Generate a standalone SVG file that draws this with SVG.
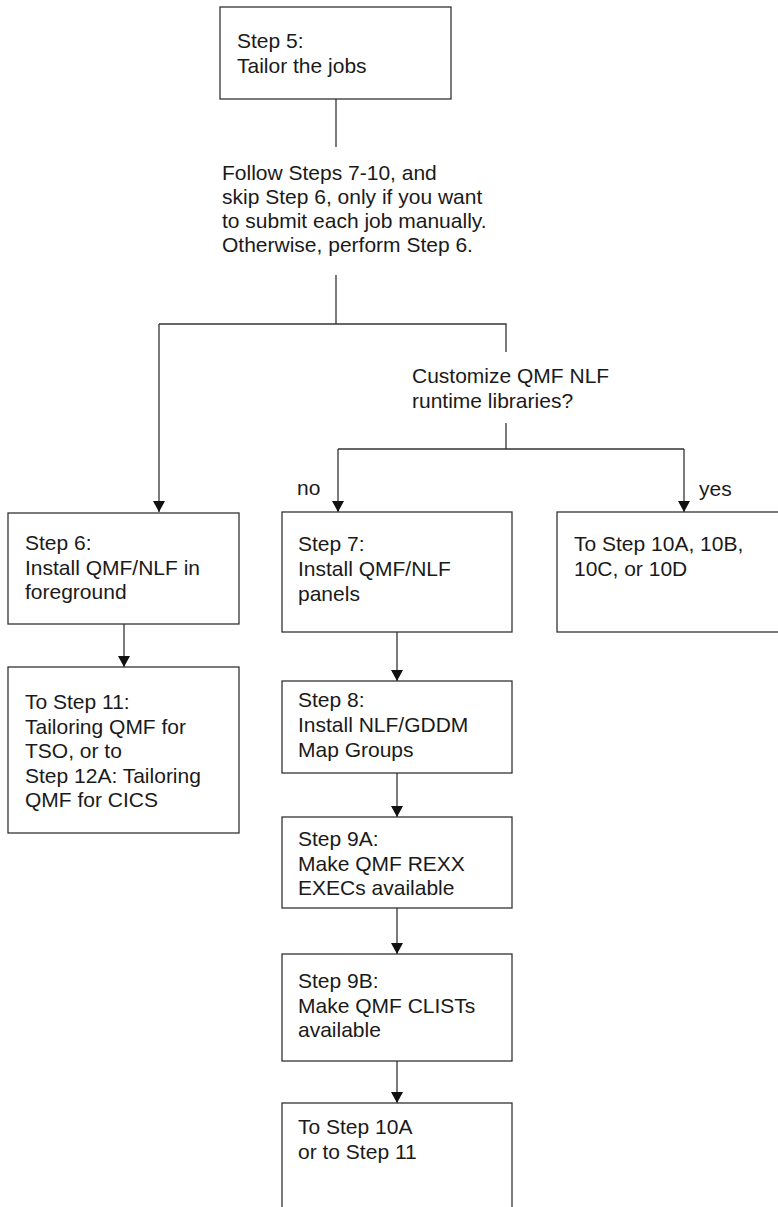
<svg xmlns="http://www.w3.org/2000/svg" width="778" height="1207" viewBox="0 0 778 1207">
<style>
.box{fill:#fff;stroke:#333;stroke-width:1.3}
.ln{fill:none;stroke:#333;stroke-width:1.3}
.ar{fill:none;stroke:#333;stroke-width:1.3;marker-end:url(#ah)}
text{font-family:"Liberation Sans",Arial,Helvetica,sans-serif;font-size:21px;fill:#1a1a1a}
</style>
<defs>
<marker id="ah" viewBox="0 0 11 12" refX="11" refY="6" markerWidth="11" markerHeight="12" markerUnits="userSpaceOnUse" orient="auto">
<path d="M0,0 L11,6 L0,12 Z" fill="#111"/>
</marker>
</defs>
<rect width="778" height="1207" fill="#fff"/>
<g id="connectors">
<line class="ln" x1="336" y1="99" x2="336" y2="147"/>
<line class="ln" x1="336" y1="275" x2="336" y2="324"/>
<polyline class="ln" points="159,324 506,324 506,352"/>
<line class="ar" x1="159" y1="324" x2="159" y2="512"/>
<line class="ln" x1="506" y1="423" x2="506" y2="449"/>
<line class="ln" x1="338" y1="449" x2="684" y2="449"/>
<line class="ar" x1="338" y1="449" x2="338" y2="512"/>
<line class="ar" x1="684" y1="449" x2="684" y2="512"/>
<line class="ar" x1="124" y1="624" x2="124" y2="667"/>
<line class="ar" x1="397" y1="632" x2="397" y2="681"/>
<line class="ar" x1="397" y1="773" x2="397" y2="817"/>
<line class="ar" x1="397" y1="908" x2="397" y2="954"/>
<line class="ar" x1="397" y1="1061" x2="397" y2="1103"/>
</g>
<g id="step5">
<rect class="box" x="220" y="7" width="231" height="92"/>
<text x="237" y="48">Step 5:</text>
<text x="237" y="73">Tailor the jobs</text>
</g>
<g id="note">
<text x="222" y="180">Follow Steps 7-10, and</text>
<text x="222" y="204">skip Step 6, only if you want</text>
<text x="222" y="228">to submit each job manually.</text>
<text x="222" y="252">Otherwise, perform Step 6.</text>
</g>
<g id="decision">
<text x="412" y="383">Customize QMF NLF</text>
<text x="412" y="408">runtime libraries?</text>
</g>
<g id="labels">
<text x="297" y="495">no</text>
<text x="699" y="496">yes</text>
</g>
<g id="step6">
<rect class="box" x="8" y="513" width="231" height="111"/>
<text x="25" y="550">Step 6:</text>
<text x="25" y="574.5">Install QMF/NLF in</text>
<text x="25" y="599">foreground</text>
</g>
<g id="step11">
<rect class="box" x="8" y="667" width="231" height="166"/>
<text x="25" y="709">To Step 11:</text>
<text x="25" y="733.5">Tailoring QMF for</text>
<text x="25" y="758">TSO, or to</text>
<text x="25" y="782.5">Step 12A: Tailoring</text>
<text x="25" y="807">QMF for CICS</text>
</g>
<g id="step7">
<rect class="box" x="282" y="512" width="230" height="120"/>
<text x="298" y="551">Step 7:</text>
<text x="298" y="576">Install QMF/NLF</text>
<text x="298" y="601">panels</text>
</g>
<g id="step8">
<rect class="box" x="282" y="681" width="230" height="92"/>
<text x="298" y="707">Step 8:</text>
<text x="298" y="732">Install NLF/GDDM</text>
<text x="298" y="757">Map Groups</text>
</g>
<g id="step9a">
<rect class="box" x="282" y="817" width="230" height="91"/>
<text x="298" y="846">Step 9A:</text>
<text x="298" y="871">Make QMF REXX</text>
<text x="298" y="895">EXECs available</text>
</g>
<g id="step9b">
<rect class="box" x="282" y="954" width="230" height="107"/>
<text x="298" y="988">Step 9B:</text>
<text x="298" y="1013">Make QMF CLISTs</text>
<text x="298" y="1037">available</text>
</g>
<g id="step10a">
<rect class="box" x="282" y="1103" width="230" height="120"/>
<text x="298" y="1134">To Step 10A</text>
<text x="298" y="1159">or to Step 11</text>
</g>
<g id="step10">
<rect class="box" x="557" y="512" width="240" height="120"/>
<text x="574" y="551">To Step 10A, 10B,</text>
<text x="574" y="576">10C, or 10D</text>
</g>
</svg>
